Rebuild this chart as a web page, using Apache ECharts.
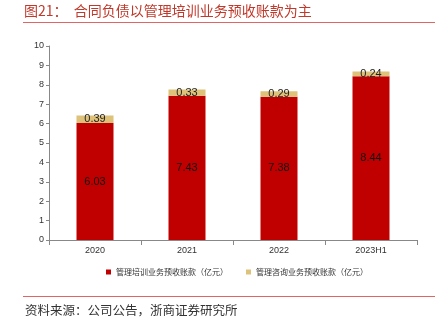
<!DOCTYPE html>
<html><head><meta charset="utf-8">
<script src="https://cdn.jsdelivr.net/npm/echarts@6/dist/echarts.min.js"></script>
<style>html,body{margin:0;padding:0;background:#fff;}#c{width:435px;height:329px;}</style>
</head><body><div id="c"></div>
<script>
const categories = ['2020', '2021', '2022', '2023H1'];
const trainingValues = [6.03, 7.43, 7.38, 8.44];
const consultingValues = [0.39, 0.33, 0.29, 0.24];
const seriesNames = ['管理培训业务预收账款（亿元）', '管理咨询业务预收账款（亿元）'];
const yTicks = [0, 1, 2, 3, 4, 5, 6, 7, 8, 9, 10];

const chart = echarts.init(document.getElementById('c'));
chart.setOption({
  animation: false,
  graphic: [
    {type: 'text', left: 24, top: 4, style: {text: '图21：  合同负债以管理培训业务预收账款为主', fill: '#c0392b', font: '14px "Noto Sans CJK SC", serif'}},
    {type: 'rect', shape: {x: 23, y: 22, width: 412, height: 1}, style: {fill: '#e06666'}},
    {type: 'rect', shape: {x: 23, y: 296, width: 412, height: 1}, style: {fill: '#e06666'}},
    {type: 'text', left: 25, top: 304, style: {text: '资料来源：公司公告，浙商证券研究所', fill: '#333', font: '12.5px "Noto Sans CJK SC", serif'}}
  ],
  grid: {left: 49, right: 18, top: 46, bottom: 89, containLabel: false},
  legend: {
    top: 263, left: 101, itemWidth: 5, itemHeight: 5, itemGap: 18,
    icon: 'rect',
    textStyle: {fontSize: 8, color: '#333', fontFamily: '"Noto Sans CJK SC"'},
    data: seriesNames
  },
  xAxis: {
    type: 'category', data: categories,
    axisLine: {lineStyle: {color: '#888'}},
    axisTick: {show: true, lineStyle: {color: '#888'}},
    axisLabel: {fontSize: 9, color: '#333', margin: 6}
  },
  yAxis: {
    type: 'value', min: 0, max: 10, interval: 1,
    axisLine: {show: true, lineStyle: {color: '#888'}},
    axisTick: {show: true, length: 3, lineStyle: {color: '#888'}},
    splitLine: {show: false},
    axisLabel: {fontSize: 9, color: '#333', margin: 5}
  },
  series: [
    {name: seriesNames[0], type: 'bar', stack: 's', data: trainingValues, barWidth: 37,
     itemStyle: {color: '#c00000'},
     label: {show: true, position: 'inside', color: '#111', fontSize: 11}},
    {name: seriesNames[1], type: 'bar', stack: 's', data: consultingValues, barWidth: 37,
     itemStyle: {color: '#dfc27a'},
     label: {show: true, position: 'inside', color: '#222', fontSize: 11}}
  ]
});
</script></body></html>
